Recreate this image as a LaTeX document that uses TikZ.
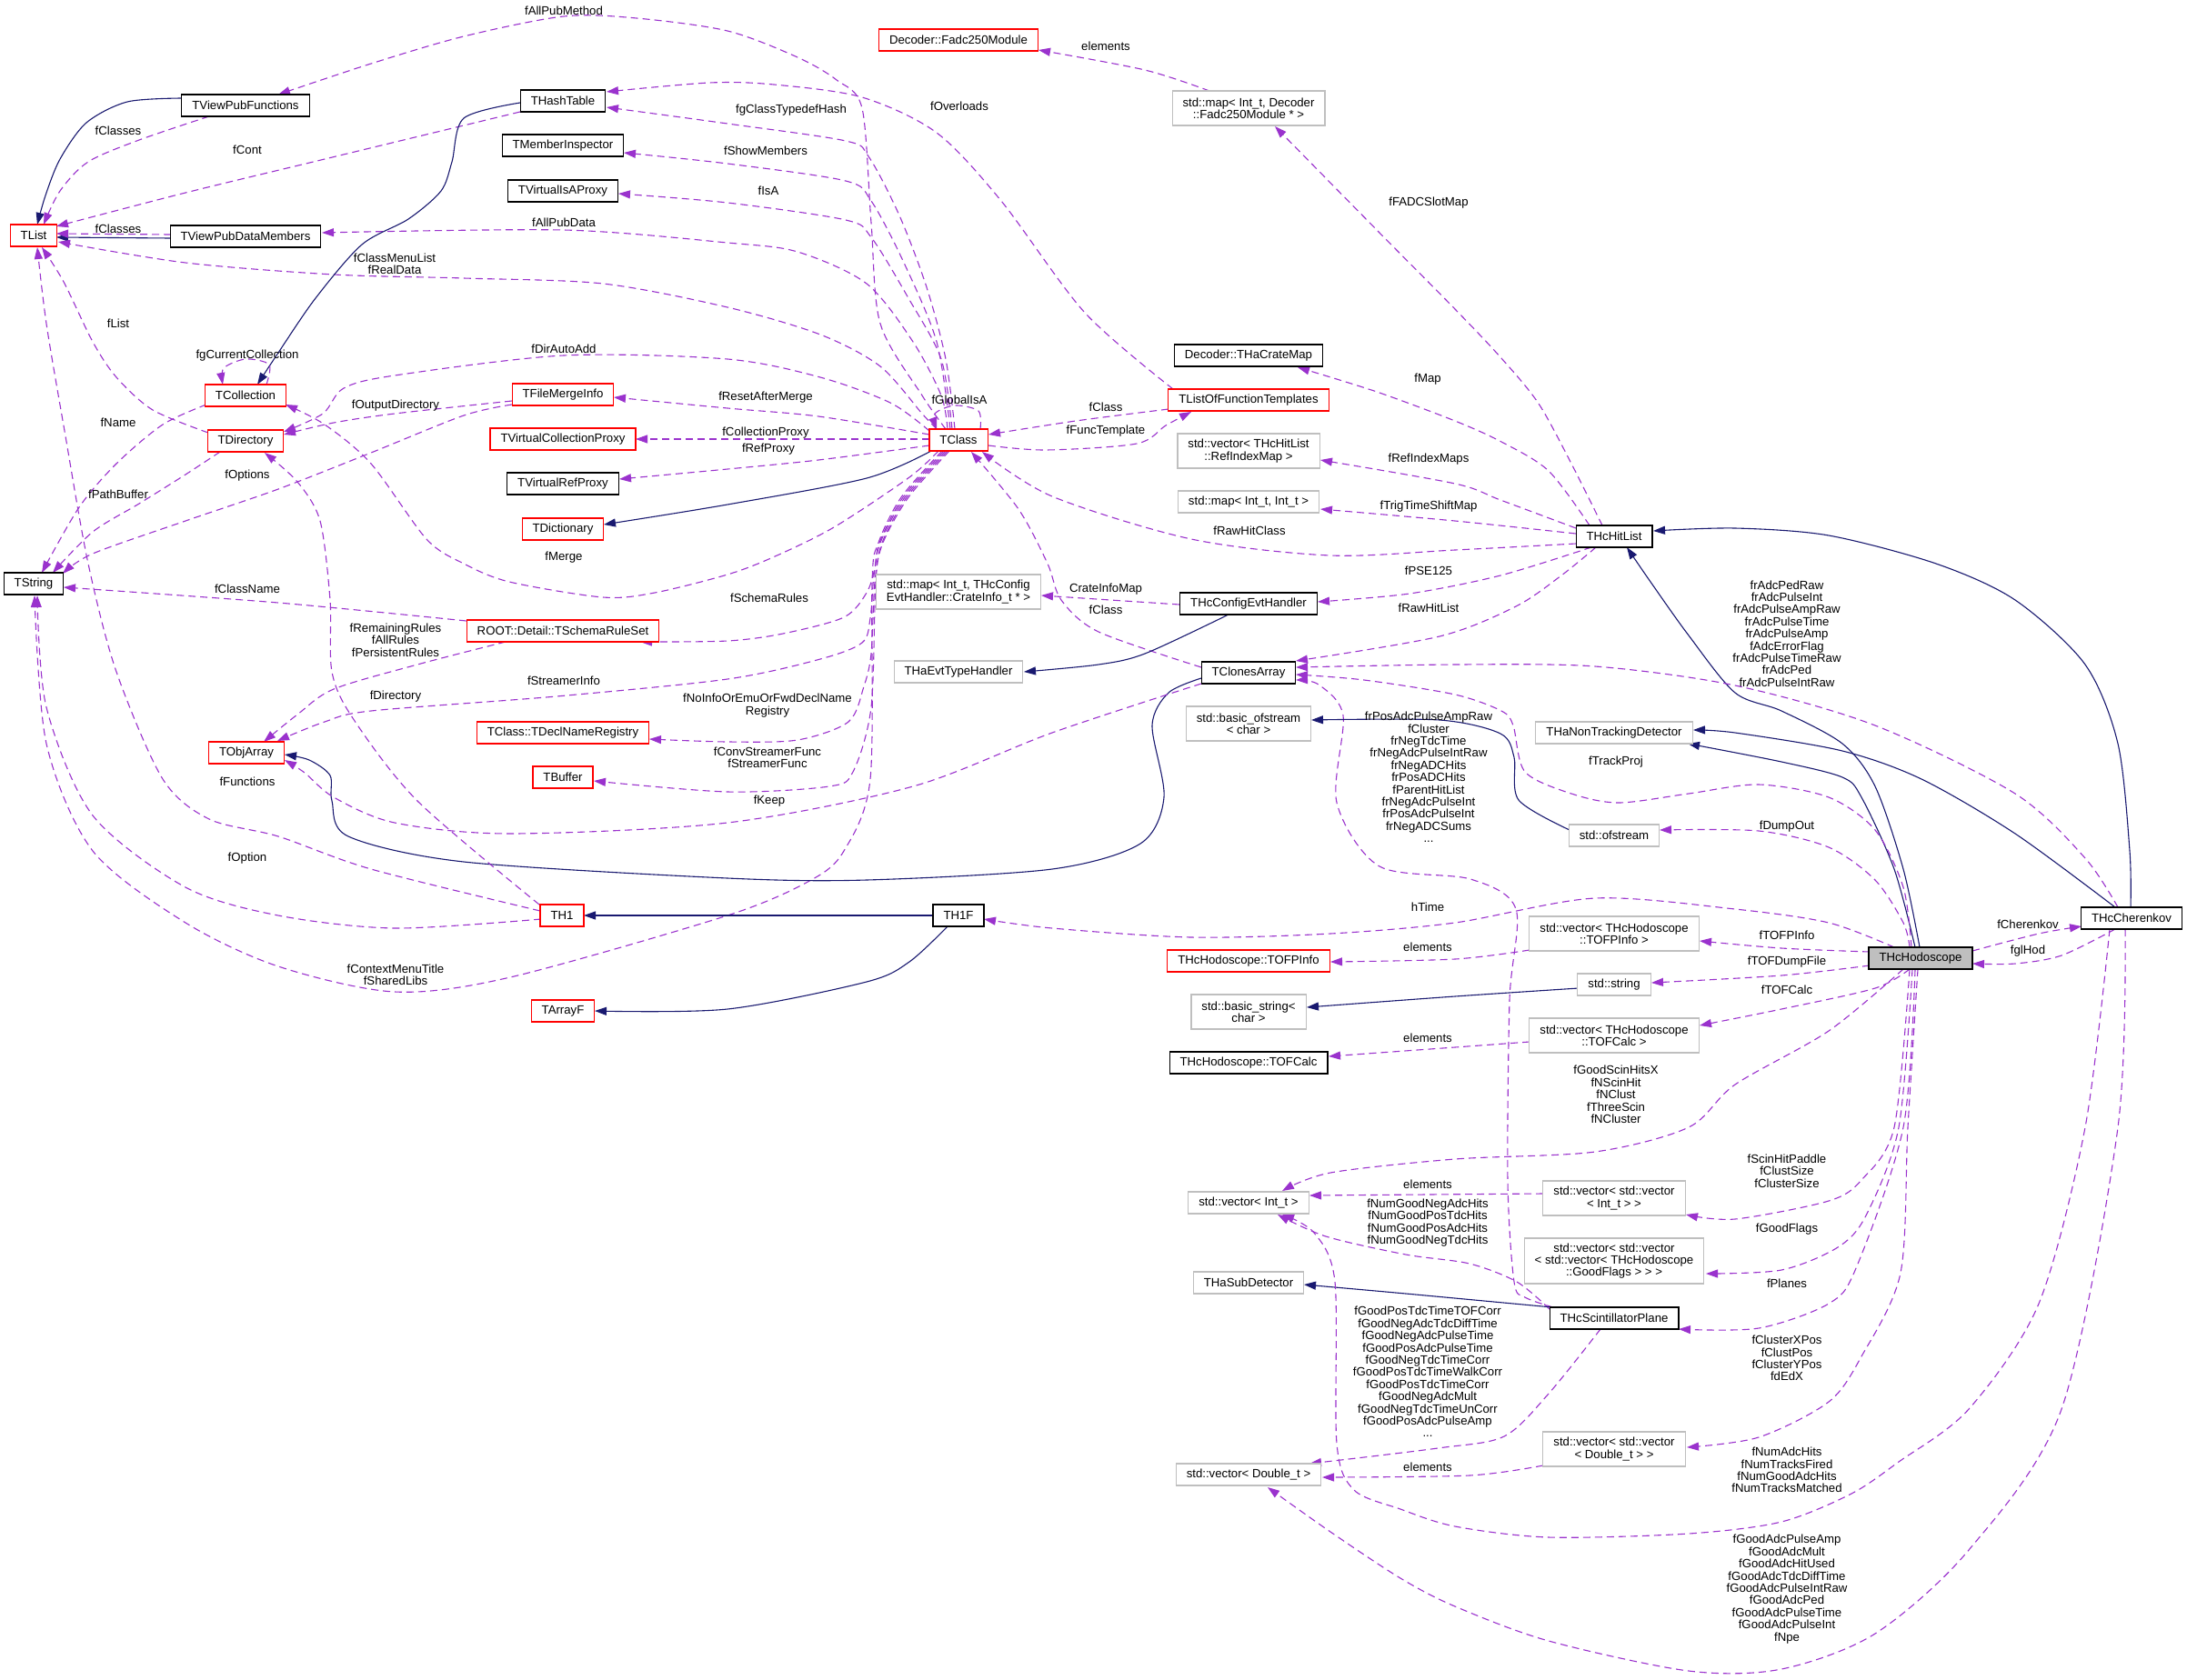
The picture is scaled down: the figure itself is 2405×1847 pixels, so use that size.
\documentclass[tikz,border=0pt]{standalone}
\usepackage{fontspec}
\setmainfont{Liberation Sans}
\usetikzlibrary{arrows.meta,backgrounds}
\definecolor{navyc}{HTML}{191970}
\definecolor{purp}{HTML}{9A32CD}
\definecolor{graybox}{HTML}{BFBFBF}
\definecolor{hodofill}{HTML}{BFBFBF}
\newcommand\dfont{\fontsize{13.2pt}{13.4pt}\selectfont}
\tikzset{
 cls/.style={rectangle, line width=1.1pt, inner xsep=11.5pt, inner ysep=3pt, minimum height=24pt, align=center, font=\dfont, fill=white},
 blk/.style={cls, draw=black},
 redb/.style={cls, draw=red},
 gryb/.style={cls, draw=graybox},
 hod/.style={cls, draw=black, fill=hodofill},
 ln2/.style={minimum height=38pt},
 ln3/.style={minimum height=50pt},
 inh/.style={draw=navyc, line width=1.1pt, -{Triangle[length=13pt,width=9pt]}},
 usg/.style={draw=purp, line width=1.1pt, dash pattern=on 8pt off 5pt, -{Triangle[length=13pt,width=9pt]}},
 lab/.style={font=\dfont, align=center, inner sep=0pt},
}
\begin{document}
\begin{tikzpicture}[x=1pt,y=-1pt]
\useasboundingbox (0,0) rectangle (2405,1847);
% ---------- nodes ----------
\node[blk] (tviewpubf) at (270,116) {TViewPubFunctions};
\node[blk] (thash) at (619,111) {THashTable};
\node[blk] (tmember) at (619,160) {TMemberInspector};
\node[blk] (tvirtisa) at (619,210) {TVirtualIsAProxy};
\node[redb] (tlist) at (37,259) {TList};
\node[blk] (tviewpubd) at (270,260) {TViewPubDataMembers};
\node[redb] (tcoll) at (270,435) {TCollection};
\node[redb] (tdir) at (270,485) {TDirectory};
\node[redb] (tfilemerge) at (619,434) {TFileMergeInfo};
\node[redb] (tvcollp) at (619,483) {TVirtualCollectionProxy};
\node[blk] (tvrefp) at (619,532) {TVirtualRefProxy};
\node[redb] (tdict) at (619,582) {TDictionary};
\node[blk] (tstring) at (37,642) {TString};
\node[redb] (tschema) at (619,694) {ROOT::Detail::TSchemaRuleSet};
\node[redb] (tobjarr) at (271,828) {TObjArray};
\node[redb] (tdeclreg) at (619,806) {TClass::TDeclNameRegistry};
\node[redb] (tbuffer) at (619,855) {TBuffer};
\node[redb] (th1) at (618,1007) {TH1};
\node[redb] (tarrayf) at (619,1112) {TArrayF};
\node[redb] (fadc) at (1054,44) {Decoder::Fadc250Module};
\node[gryb,ln2] (mapfadc) at (1373,119) {std::map< Int\_t, Decoder\\::Fadc250Module * >};
\node[blk] (cratemap) at (1373,391) {Decoder::THaCrateMap};
\node[redb] (tlofft) at (1373,440) {TListOfFunctionTemplates};
\node[redb] (tclass) at (1054,484) {TClass};
\node[gryb,ln2] (vecref) at (1373,496) {std::vector< THcHitList\\::RefIndexMap >};
\node[gryb] (mapint) at (1373,552) {std::map< Int\_t, Int\_t >};
\node[blk] (thchitlist) at (1775,590) {THcHitList};
\node[gryb,ln2] (mapcrate) at (1054,651) {std::map< Int\_t, THcConfig\\EvtHandler::CrateInfo\_t * >};
\node[blk] (thcconfig) at (1373,664) {THcConfigEvtHandler};
\node[gryb] (thaevt) at (1054,739) {THaEvtTypeHandler};
\node[blk] (tclones) at (1373,740) {TClonesArray};
\node[gryb,ln2] (basicofs) at (1373,796) {std::basic\_ofstream\\< char >};
\node[blk] (th1f) at (1054,1007) {TH1F};
\node[redb] (tofpinfo) at (1373,1057) {THcHodoscope::TOFPInfo};
\node[gryb,ln2] (basicstr) at (1373,1113) {std::basic\_string<\\char >};
\node[blk] (tofcalc) at (1373,1169) {THcHodoscope::TOFCalc};
\node[gryb] (thanontrack) at (1775,806) {THaNonTrackingDetector};
\node[gryb] (ofstream) at (1775,919) {std::ofstream};
\node[gryb,ln2] (vectofp) at (1775,1027) {std::vector< THcHodoscope\\::TOFPInfo >};
\node[hod] (hodo) at (2112,1054) {THcHodoscope};
\node[blk] (cheren) at (2344,1010) {THcCherenkov};
\node[gryb] (stdstring) at (1775,1083) {std::string};
\node[gryb,ln2] (vectofc) at (1775,1139) {std::vector< THcHodoscope\\::TOFCalc >};
\node[gryb] (vecint) at (1373,1323) {std::vector< Int\_t >};
\node[gryb] (thasub) at (1373,1411) {THaSubDetector};
\node[gryb] (vecdbl) at (1373,1622) {std::vector< Double\_t >};
\node[gryb,ln2] (vecvecint) at (1775,1318) {std::vector< std::vector\\< Int\_t > >};
\node[gryb,ln3] (vecgood) at (1775,1387) {std::vector< std::vector\\< std::vector< THcHodoscope\\::GoodFlags > > >};
\node[blk] (scint) at (1775,1450) {THcScintillatorPlane};
\node[gryb,ln2] (vecvecdbl) at (1775,1594) {std::vector< std::vector\\< Double\_t > >};
% ---------- labels ----------
\node[lab] (l01) at (620,12) {fAllPubMethod};
\node[lab] (l02) at (130,144) {fClasses};
\node[lab] (l03) at (272,165) {fCont};
\node[lab] (l04) at (130,252) {fClasses};
\node[lab] (l05) at (870,121) {fgClassTypedefHash};
\node[lab] (l06) at (1055,117) {fOverloads};
\node[lab] (l07) at (1216,51) {elements};
\node[lab] (l08) at (842,166) {fShowMembers};
\node[lab] (l09) at (845,210) {fIsA};
\node[lab] (l10) at (620,245) {fAllPubData};
\node[lab] (l11) at (1571,223) {fFADCSlotMap};
\node[lab] (l12) at (434,290) {fClassMenuList\\fRealData};
\node[lab] (l13) at (130,356) {fList};
\node[lab] (l14) at (272,391) {fgCurrentCollection};
\node[lab] (l15) at (620,384) {fDirAutoAdd};
\node[lab] (l16) at (1570,417) {fMap};
\node[lab] (l17) at (1055,440) {fGlobalIsA};
\node[lab] (l18) at (1216,448) {fClass};
\node[lab] (l19) at (842,437) {fResetAfterMerge};
\node[lab] (l20) at (435,446) {fOutputDirectory};
\node[lab] (l21) at (130,465) {fName};
\node[lab] (l22) at (1216,474) {fFuncTemplate};
\node[lab] (l23) at (842,476) {fCollectionProxy};
\node[lab] (l24) at (845,494) {fRefProxy};
\node[lab] (l25) at (1571,505) {fRefIndexMaps};
\node[lab] (l26) at (272,523) {fOptions};
\node[lab] (l27) at (130,544) {fPathBuffer};
\node[lab] (l28) at (1571,557) {fTrigTimeShiftMap};
\node[lab] (l29) at (1374,584) {fRawHitClass};
\node[lab] (l30) at (620,613) {fMerge};
\node[lab] (l31) at (1571,628) {fPSE125};
\node[lab] (l32) at (272,648) {fClassName};
\node[lab] (l33) at (1216,648) {CrateInfoMap};
\node[lab] (l34) at (846,658) {fSchemaRules};
\node[lab] (l35) at (1571,669) {fRawHitList};
\node[lab] (l36) at (1216,671) {fClass};
\node[lab] (l37) at (1965,697) {frAdcPedRaw\\frAdcPulseInt\\frAdcPulseAmpRaw\\frAdcPulseTime\\frAdcPulseAmp\\fAdcErrorFlag\\frAdcPulseTimeRaw\\frAdcPed\\frAdcPulseIntRaw};
\node[lab] (l38) at (435,704) {fRemainingRules\\fAllRules\\fPersistentRules};
\node[lab] (l39) at (620,749) {fStreamerInfo};
\node[lab] (l40) at (435,766) {fDirectory};
\node[lab] (l41) at (844,776) {fNoInfoOrEmuOrFwdDeclName\\Registry};
\node[lab] (l42) at (844,833) {fConvStreamerFunc\\fStreamerFunc};
\node[lab] (l43) at (1777,838) {fTrackProj};
\node[lab] (l44) at (1571,855) {frPosAdcPulseAmpRaw\\fCluster\\frNegTdcTime\\frNegAdcPulseIntRaw\\frNegADCHits\\frPosADCHits\\fParentHitList\\frNegAdcPulseInt\\frPosAdcPulseInt\\frNegADCSums\\...};
\node[lab] (l45) at (272,860) {fFunctions};
\node[lab] (l46) at (846,881) {fKeep};
\node[lab] (l47) at (1965,909) {fDumpOut};
\node[lab] (l48) at (272,944) {fOption};
\node[lab] (l49) at (1570,998) {hTime};
\node[lab] (l50) at (2230,1017) {fCherenkov};
\node[lab] (l51) at (1965,1029) {fTOFPInfo};
\node[lab] (l52) at (1570,1042) {elements};
\node[lab] (l53) at (2230,1046) {fglHod};
\node[lab] (l54) at (1965,1058) {fTOFDumpFile};
\node[lab] (l55) at (435,1072) {fContextMenuTitle\\fSharedLibs};
\node[lab] (l56) at (1965,1089) {fTOFCalc};
\node[lab] (l57) at (1570,1142) {elements};
\node[lab] (l58) at (1777,1204) {fGoodScinHitsX\\fNScinHit\\fNClust\\fThreeScin\\fNCluster};
\node[lab] (l59) at (1965,1288) {fScinHitPaddle\\fClustSize\\fClusterSize};
\node[lab] (l60) at (1570,1303) {elements};
\node[lab] (l61) at (1570,1345) {fNumGoodNegAdcHits\\fNumGoodPosTdcHits\\fNumGoodPosAdcHits\\fNumGoodNegTdcHits};
\node[lab] (l62) at (1965,1352) {fGoodFlags};
\node[lab] (l63) at (1965,1412) {fPlanes};
\node[lab] (l64) at (1965,1494) {fClusterXPos\\fClustPos\\fClusterYPos\\fdEdX};
\node[lab] (l65) at (1570,1509) {fGoodPosTdcTimeTOFCorr\\fGoodNegAdcTdcDiffTime\\fGoodNegAdcPulseTime\\fGoodPosAdcPulseTime\\fGoodNegTdcTimeCorr\\fGoodPosTdcTimeWalkCorr\\fGoodPosTdcTimeCorr\\fGoodNegAdcMult\\fGoodNegTdcTimeUnCorr\\fGoodPosAdcPulseAmp\\...};
\node[lab] (l66) at (1570,1614) {elements};
\node[lab] (l67) at (1965,1617) {fNumAdcHits\\fNumTracksFired\\fNumGoodAdcHits\\fNumTracksMatched};
\node[lab] (l68) at (1965,1748) {fGoodAdcPulseAmp\\fGoodAdcMult\\fGoodAdcHitUsed\\fGoodAdcTdcDiffTime\\fGoodAdcPulseIntRaw\\fGoodAdcPed\\fGoodAdcPulseTime\\fGoodAdcPulseInt\\fNpe};
% ---------- edges ----------
\begin{pgfonlayer}{background}
\fill[white] (0,0) rectangle (2405,1847);
% left cluster
\draw[inh] plot[smooth] coordinates {([shift={(-70,-8)}]tviewpubf.center) (140,112) (95,135) (66,175) (50,215) ([shift={(4,-12)}]tlist.center)};
\draw[usg] plot[smooth] coordinates {([shift={(-40,12)}]tviewpubf.center) (153,154) (97,178) (66,210) ([shift={(11,-12)}]tlist.center)};
\draw[usg] plot[smooth] coordinates {([shift={(-47,12)}]thash.center) (357,175) (204,212) ([shift={(25,-10)}]tlist.center)};
\draw[inh] ([shift={(-82,2)}]tviewpubd.center) -- ([shift={(25,2)}]tlist.center);
\draw[usg] ([shift={(-82,-2)}]tviewpubd.center) -- ([shift={(25,-2)}]tlist.center);
\draw[usg] plot[smooth] coordinates {([shift={(-14,-12)}]tclass.center) (1014,435) (968,356) (958,245) (948,119) (920,88) (877,63) (800,34) (700,20) (620,18) (510,40) (408,70) ([shift={(36,-12)}]tviewpubf.center)};
\draw[usg] plot[smooth] coordinates {([shift={(-4,-12)}]tclass.center) (1040,395) (1019,316) (989,237) (955,172) (930,155) (800,136) ([shift={(48,7)}]thash.center)};
\draw[usg] plot[smooth] coordinates {([shift={(-83,-12)}]tlofft.center) (1193,344) (1101,221) (1030,146) (948,107) (851,93) (780,91) ([shift={(48,-10)}]thash.center)};
\draw[usg] plot[smooth] coordinates {([shift={(-9,-12)}]tclass.center) (1030,376) (994,289) (958,221) (930,199) (800,180) ([shift={(67,8)}]tmember.center)};
\draw[usg] plot[smooth] coordinates {([shift={(-7,-12)}]tclass.center) (1035,395) (999,328) (958,261) (930,242) (800,223) ([shift={(61,3)}]tvirtisa.center)};
\draw[usg] plot[smooth] coordinates {([shift={(-12,-12)}]tclass.center) (1035,435) (1004,376) (953,312) (877,277) (800,267) (620,253) ([shift={(84,-4)}]tviewpubd.center)};
\draw[usg] plot[smooth] coordinates {([shift={(-24,-12)}]tclass.center) (1014,455) (968,403) (902,368) (800,338) (663,312) (510,306) (367,302) (204,289) ([shift={(27,7)}]tlist.center)};
\draw[usg] plot[smooth] coordinates {([shift={(-32,-10)}]tclass.center) (979,443) (902,415) (800,395) (620,391) (434,413) (378,427) (355,455) ([shift={(42,-10)}]tdir.center)};
\draw[usg] plot[smooth] coordinates {([shift={(-32,-6)}]tclass.center) (900,458) (800,449) ([shift={(56,3)}]tfilemerge.center)};
\draw[usg] ([shift={(-32,-1)}]tclass.center) -- ([shift={(80,0)}]tvcollp.center);
\draw[usg] plot[smooth] coordinates {([shift={(-32,6)}]tclass.center) (900,506) (800,516) ([shift={(62,-5)}]tvrefp.center)};
\draw[inh] plot[smooth] coordinates {([shift={(-30,12)}]tclass.center) (953,526) (800,555) ([shift={(45,-5)}]tdict.center)};
\draw[usg] plot[smooth] coordinates {([shift={(-22,12)}]tclass.center) (1000,525) (917,580) (850,613) (800,632) (720,652) (663,657) (560,640) (510,620) (469,593) (408,510) (357,467) ([shift={(44,10)}]tcoll.center)};
\draw[usg] plot[smooth] coordinates {([shift={(-16,12)}]tclass.center) (993,547) (967,597) (962,625) (953,652) (928,679) (861,697) (800,705) ([shift={(85,12)}]tschema.center)};
\draw[usg] plot[smooth] coordinates {([shift={(-14,12)}]tclass.center) (995,547) (968,597) (961,633) (957,680) (948,707) (902,725) (800,747) (612,766) (408,782) (357,794) ([shift={(34,-13)}]tobjarr.center)};
\draw[usg] plot[smooth] coordinates {([shift={(-12,12)}]tclass.center) (997,547) (970,597) (962,640) (958,719) (950,755) (933,794) (877,814) (800,816) ([shift={(95,7)}]tdeclreg.center)};
\draw[usg] plot[smooth] coordinates {([shift={(-10,12)}]tclass.center) (999,547) (971,597) (963,640) (958,778) (938,849) (912,865) (800,871) ([shift={(34,4)}]tbuffer.center)};
\draw[usg] plot[smooth] coordinates {([shift={(-18,12)}]tclass.center) (991,547) (966,597) (959,640) (957,857) (928,936) (892,968) (800,1007) (561,1075) (434,1091) (306,1063) (204,1015) (102,936) (51,818) ([shift={(1,13)}]tstring.center)};
\draw[usg] plot[smooth] coordinates {([shift={(-52,-6)}]tclones.center) (1208,695) (1167,660) (1152,620) (1120,560) ([shift={(14,13)}]tclass.center)};
\draw[usg] plot[smooth] coordinates {([shift={(-42,8)}]thchitlist.center) (1600,605) (1463,611) (1310,593) (1157,546) ([shift={(26,13)}]tclass.center)};
\draw[usg] plot[smooth] coordinates {([shift={(-88,10)}]tlofft.center) (1183,463) ([shift={(33,-6)}]tclass.center)};
\draw[usg] plot[smooth] coordinates {([shift={(33,6)}]tclass.center) (1150,495) (1250,488) (1282,468) ([shift={(-63,13)}]tlofft.center)};
\draw[usg] plot[smooth] coordinates {([shift={(24,-12)}]tclass.center) (1076,452) (1050,446) (1028,455) ([shift={(-24,-12)}]tclass.center)};
\draw[usg] plot[smooth] coordinates {([shift={(-43,-19)}]mapfadc.center) (1259,77) ([shift={(88,11)}]fadc.center)};
\draw[usg] plot[smooth] coordinates {([shift={(-13,-12)}]thchitlist.center) (1728,510) (1692,444) (1651,394) (1600,340) (1514,253) ([shift={(29,20)}]mapfadc.center)};
\draw[usg] plot[smooth] coordinates {([shift={(-27,-12)}]thchitlist.center) (1703,518) (1651,486) (1600,463) (1514,431) ([shift={(54,13)}]cratemap.center)};
\draw[usg] plot[smooth] coordinates {([shift={(-42,-9)}]thchitlist.center) (1650,550) (1600,532) ([shift={(79,10)}]vecref.center)};
\draw[usg] plot[smooth] coordinates {([shift={(-42,-3)}]thchitlist.center) (1600,573) ([shift={(79,8)}]mapint.center)};
\draw[usg] plot[smooth] coordinates {([shift={(-25,12)}]thchitlist.center) (1650,633) (1550,653) ([shift={(76,-2)}]thcconfig.center)};
\draw[usg] plot[smooth] coordinates {([shift={(-20,12)}]thchitlist.center) (1717,633) (1667,667) (1583,700) ([shift={(52,-13)}]tclones.center)};
\draw[usg] ([shift={(-76,1)}]thcconfig.center) -- ([shift={(91,4)}]mapcrate.center);
\draw[inh] plot[smooth] coordinates {([shift={(-22,12)}]thcconfig.center) (1259,719) (1208,731) ([shift={(72,0)}]thaevt.center)};
\draw[inh] plot[smooth] coordinates {([shift={(-52,6)}]tclones.center) (1285,762) (1267,798) (1280,877) (1254,928) (1157,956) (953,968) (800,966) (510,948) (383,920) (365,881) (363,853) (340,836) ([shift={(42,2)}]tobjarr.center)};
\draw[usg] plot[smooth] coordinates {([shift={(-52,12)}]tclones.center) (1157,806) (1004,865) (800,905) (561,917) (434,905) (367,877) (335,850) ([shift={(42,8)}]tobjarr.center)};
\draw[inh] ([shift={(-27,0)}]th1f.center) -- ([shift={(24,0)}]th1.center);
\draw[inh] plot[smooth] coordinates {([shift={(-12,12)}]th1f.center) (1000,1058) (953,1080) (800,1110) ([shift={(35,0)}]tarrayf.center)};
\draw[usg] plot[smooth] coordinates {([shift={(-25,-12)}]th1.center) (459,881) (388,790) (365,739) (363,660) (352,573) (327,530) ([shift={(21,13)}]tdir.center)};
\draw[usg] plot[smooth] coordinates {([shift={(-24,-5)}]th1.center) (408,956) (306,920) (230,901) (179,857) (128,739) (97,620) (71,474) (51,356) ([shift={(4,13)}]tlist.center)};
\draw[usg] plot[smooth] coordinates {([shift={(-23,4)}]th1.center) (434,1021) (306,1007) (204,976) (102,897) (51,778) ([shift={(4,13)}]tstring.center)};
\draw[usg] plot[smooth] coordinates {([shift={(-63,12)}]tschema.center) (459,731) (367,758) (327,786) ([shift={(19,-12)}]tobjarr.center)};
\draw[usg] plot[smooth] coordinates {([shift={(-106,-11)}]tschema.center) (306,663) ([shift={(33,4)}]tstring.center)};
\draw[inh] plot[smooth] coordinates {([shift={(-47,2)}]thash.center) (510,130) (497,178) (485,210) (449,241) (398,269) (347,328) (306,388) ([shift={(13,-12)}]tcoll.center)};
\draw[usg] plot[smooth] coordinates {([shift={(23,-12)}]tcoll.center) (296,401) (270,395) (246,405) ([shift={(-25,-12)}]tcoll.center)};
\draw[usg] plot[smooth] coordinates {([shift={(-43,10)}]tcoll.center) (179,467) (128,510) (87,558) ([shift={(9,-12)}]tstring.center)};
\draw[usg] plot[smooth] coordinates {([shift={(-41,-9)}]tdir.center) (168,451) (128,415) (102,376) (70,310) ([shift={(9,13)}]tlist.center)};
\draw[usg] plot[smooth] coordinates {([shift={(-28,12)}]tdir.center) (204,522) (153,554) (102,585) ([shift={(21,-12)}]tstring.center)};
\draw[usg] plot[smooth] coordinates {([shift={(-56,11)}]tfilemerge.center) (510,457) (408,498) (306,538) (204,573) (102,609) ([shift={(32,-11)}]tstring.center)};
\draw[usg] plot[smooth] coordinates {([shift={(-56,7)}]tfilemerge.center) (434,455) (367,465) ([shift={(42,-7)}]tdir.center)};
% right cluster
\draw[inh] plot[smooth] coordinates {([shift={(-1,-12)}]hodo.center) (2093,956) (2062,865) (2026,818) (1959,782) (1908,762) (1857,699) (1815,640) ([shift={(14,12)}]thchitlist.center)};
\draw[inh] plot[smooth] coordinates {([shift={(-6,-12)}]hodo.center) (2083,956) (2047,877) (2026,855) (1959,838) ([shift={(81,12)}]thanontrack.center)};
\draw[inh] plot[smooth] coordinates {([shift={(-1,-12)}]cheren.center) (2342,936) (2329,818) (2293,731) (2216,660) (2129,620) (2011,589) (1908,581) ([shift={(43,-6)}]thchitlist.center)};
\draw[inh] plot[smooth] coordinates {([shift={(-18,-12)}]cheren.center) (2216,917) (2113,857) (2026,826) (1908,806) ([shift={(87,-3)}]thanontrack.center)};
\draw[usg] plot[smooth] coordinates {([shift={(-15,-12)}]cheren.center) (2293,944) (2216,873) (2062,798) (1908,754) (1754,733) (1600,731) ([shift={(52,-6)}]tclones.center)};
\draw[usg] plot[smooth] coordinates {([shift={(-10,-12)}]hodo.center) (2093,976) (2062,913) (2011,877) (1934,863) (1857,873) (1780,883) (1728,873) (1677,849) (1664,798) (1651,782) (1600,764) (1500,748) ([shift={(52,2)}]tclones.center)};
\draw[usg] plot[smooth] coordinates {([shift={(-67,-12)}]scint.center) (1677,1427) (1665,1410) (1658,1300) (1660,1100) (1667,1000) (1617,967) (1517,953) (1470,883) (1477,787) (1450,753) ([shift={(52,8)}]tclones.center)};
\draw[inh] plot[smooth] coordinates {([shift={(-49,-6)}]ofstream.center) (1670,880) (1665,833) (1650,807) (1583,792) ([shift={(69,-4)}]basicofs.center)};
\draw[usg] plot[smooth] coordinates {([shift={(-12,-12)}]hodo.center) (2093,1015) (2062,968) (2011,932) (1934,914) ([shift={(50,-6)}]ofstream.center)};
\draw[usg] plot[smooth] coordinates {([shift={(-29,-12)}]hodo.center) (2011,1015) (1908,1000) (1754,988) (1600,1015) (1463,1027) (1310,1031) (1157,1021) ([shift={(28,4)}]th1f.center)};
\draw[usg] plot[smooth] coordinates {([shift={(-56,-7)}]hodo.center) (1959,1043) ([shift={(94,8)}]vectofp.center)};
\draw[usg] plot[smooth] coordinates {([shift={(-93,18)}]vectofp.center) (1600,1055) ([shift={(90,1)}]tofpinfo.center)};
\draw[usg] plot[smooth] coordinates {([shift={(-56,8)}]hodo.center) (1959,1073) ([shift={(41,-2)}]stdstring.center)};
\draw[inh] plot[smooth] coordinates {([shift={(-39,4)}]stdstring.center) (1600,1096) ([shift={(64,-5)}]basicstr.center)};
\draw[usg] plot[smooth] coordinates {([shift={(-12,12)}]hodo.center) (2062,1087) (1959,1110) ([shift={(94,-11)}]vectofc.center)};
\draw[usg] plot[smooth] coordinates {([shift={(-93,7)}]vectofc.center) (1600,1152) ([shift={(88,-7)}]tofcalc.center)};
\draw[usg] plot[smooth] coordinates {([shift={(-19,12)}]hodo.center) (2011,1134) (1908,1193) (1857,1240) (1754,1267) (1600,1275) (1463,1290) ([shift={(37,-13)}]vecint.center)};
\draw[usg] ([shift={(-78,-5)}]vecvecint.center) -- ([shift={(67,-8)}]vecint.center);
\draw[usg] plot[smooth] coordinates {([shift={(-71,-10)}]scint.center) (1668,1410) (1616,1390) (1546,1380) (1458,1360) ([shift={(32,13)}]vecint.center)};
\draw[inh] plot[smooth] coordinates {([shift={(-68,-12)}]scint.center) (1546,1423) ([shift={(61,2)}]thasub.center)};
\draw[usg] plot[smooth] coordinates {([shift={(-12,12)}]hodo.center) (2083,1240) (2047,1298) (2011,1321) (1908,1341) ([shift={(79,18)}]vecvecint.center)};
\draw[usg] plot[smooth] coordinates {([shift={(-9,12)}]hodo.center) (2088,1240) (2052,1337) (2021,1372) (1959,1397) ([shift={(101,14)}]vecgood.center)};
\draw[usg] plot[smooth] coordinates {([shift={(-6,12)}]hodo.center) (2093,1240) (2041,1395) (2011,1434) (1934,1461) ([shift={(71,12)}]scint.center)};
\draw[usg] plot[smooth] coordinates {([shift={(-3,12)}]hodo.center) (2098,1240) (2090,1400) (2047,1492) (2011,1542) (1934,1581) ([shift={(80,-2)}]vecvecdbl.center)};
\draw[usg] plot[smooth] coordinates {([shift={(-15,12)}]scint.center) (1703,1533) (1654,1580) (1581,1593) ([shift={(67,-12)}]vecdbl.center)};
\draw[usg] plot[smooth] coordinates {([shift={(-78,18)}]vecvecdbl.center) (1616,1623) ([shift={(81,3)}]vecdbl.center)};
\draw[usg] plot[smooth] coordinates {([shift={(-24,12)}]cheren.center) (2293,1240) (2242,1434) (2165,1550) (2088,1608) (2036,1643) (1959,1674) (1857,1687) (1703,1691) (1600,1679) (1540,1660) (1489,1639) (1470,1588) (1468,1410) (1445,1356) ([shift={(37,13)}]vecint.center)};
\draw[usg] plot[smooth] coordinates {([shift={(-7,12)}]cheren.center) (2329,1240) (2267,1550) (2165,1705) (2062,1797) (1959,1836) (1857,1838) (1703,1805) (1600,1767) (1540,1736) (1463,1685) ([shift={(21,14)}]vecdbl.center)};
\draw[usg] plot[smooth] coordinates {([shift={(57,-8)}]hodo.center) (2242,1027) ([shift={(-55,9)}]cheren.center)};
\draw[usg] plot[smooth] coordinates {([shift={(-18,12)}]cheren.center) (2267,1051) (2216,1060) ([shift={(57,6)}]hodo.center)};
\end{pgfonlayer}
\end{tikzpicture}
\end{document}
